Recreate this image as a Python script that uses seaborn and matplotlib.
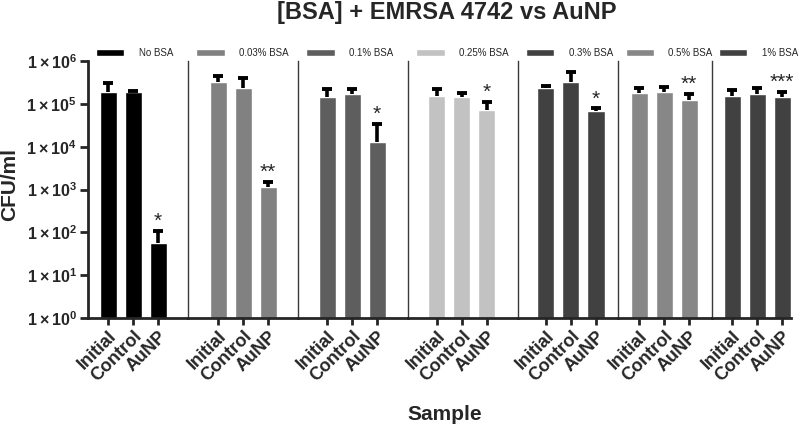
import matplotlib
matplotlib.use("Agg")
import matplotlib.pyplot as plt
from matplotlib.patches import Patch
from matplotlib.ticker import FixedLocator, FuncFormatter, NullLocator
import numpy as np
import pandas as pd
import seaborn as sns

# values (CFU/ml, mean and upper error)
bsa_groups = ["No BSA", "0.03% BSA", "0.1% BSA", "0.25% BSA", "0.3% BSA", "0.5% BSA", "1% BSA"]
sample_names = ["Initial", "Control", "AuNP"]

initial_cfu = [1.94e5, 3.15e5, 1.48e5, 1.56e5, 2.34e5, 1.83e5, 1.55e5]
control_cfu = [1.87e5, 2.33e5, 1.70e5, 1.48e5, 3.15e5, 1.87e5, 1.70e5]
aunp_cfu = [57, 1.13e3, 1.31e4, 7.1e4, 6.9e4, 1.24e5, 1.44e5]

initial_err = [1.06e5, 1.2e5, 7.2e4, 6.4e4, 2.6e4, 5.1e4, 5.8e4]
control_err = [1.3e4, 1.67e5, 5.0e4, 3.5e4, 2.25e5, 6.3e4, 6.4e4]
aunp_err = [53, 390, 2.09e4, 3.9e4, 9e3, 4.6e4, 5.0e4]

aunp_signif = ["*", "**", "*", "*", "*", "**", "***"]

bar_colors = ["#000000", "#818181", "#5e5e5e", "#c2c2c2", "#414141", "#878787", "#414141"]

# layout (pixels): padding left/right of the three bars in each panel, bar pitch
pad_left = [20, 30, 29, 29, 28, 21, 20]
pad_right = [30, 30, 31, 31, 22, 23, 9]
pitch = 25

rows = []
for g, grp in enumerate(bsa_groups):
    for s, vals, errs in zip(sample_names, [initial_cfu, control_cfu, aunp_cfu],
                             [initial_err, control_err, aunp_err]):
        rows.append({"Group": grp, "Sample": s, "CFU": vals[g], "err": errs[g]})
df = pd.DataFrame(rows)

sns.set_style("ticks")
plt.rcParams["font.family"] = ["Liberation Sans", "DejaVu Sans"]
plt.rcParams["mathtext.fontset"] = "custom"
plt.rcParams["mathtext.rm"] = "Liberation Sans"
plt.rcParams["mathtext.bf"] = "Liberation Sans:bold"

fig = plt.figure(figsize=(8.05, 4.32), dpi=100)
widths = [l + 2 * pitch + r for l, r in zip(pad_left, pad_right)]
gs = fig.add_gridspec(1, len(bsa_groups), width_ratios=widths, wspace=0,
                      left=88 / 805, right=791 / 805, top=1 - 61 / 432, bottom=1 - 318 / 432)

axes = []
for g, grp in enumerate(bsa_groups):
    ax = fig.add_subplot(gs[0, g], sharey=axes[0] if axes else None)
    axes.append(ax)
    sub = df[df["Group"] == grp]
    sns.barplot(data=sub, x="Sample", y="CFU", order=sample_names, color=bar_colors[g],
                saturation=1, width=0.68, errorbar=None, ax=ax)
    ax.set_yscale("log")
    ax.set_ylim(1, 1e6)
    ax.set_xlim(-pad_left[g] / pitch, 2 + pad_right[g] / pitch)

    for patch, err, s in zip(ax.patches, sub["err"], sub["Sample"]):
        x = patch.get_x() + patch.get_width() / 2
        h = patch.get_height()
        eb = ax.errorbar(x, h, yerr=[[0], [err]], fmt="none", ecolor="black",
                         elinewidth=2.6, capsize=3.6, capthick=2.8, zorder=1)
        eb[1][0].remove()  # upper whisker only
        if s == "AuNP":
            ax.annotate(aunp_signif[g], xy=(x, h + err), xytext=(0, 0), textcoords="offset points",
                        ha="center", va="bottom", fontsize=15)

    ax.spines["top"].set_visible(False)
    ax.spines["right"].set_visible(False)
    ax.spines["bottom"].set_linewidth(2)
    ax.tick_params(axis="x", length=5, width=2, pad=2)
    ax.set_xticks(range(len(sample_names)))
    ax.set_xticklabels(sample_names, rotation=45, ha="right", va="top", rotation_mode="anchor",
                       fontsize=13, fontweight="bold")
    ax.set_xlabel("")
    ax.set_ylabel("")
    if g == 0:
        ax.spines["left"].set_linewidth(2)
    else:
        ax.spines["left"].set_linewidth(1)
        ax.spines["left"].set_color("#3a3a3a")
        ax.tick_params(axis="y", which="both", left=False, labelleft=False)

    ax.legend([Patch(facecolor=bar_colors[g])], [grp], loc="lower left", bbox_to_anchor=(0.05, 1.0),
              frameon=False, fontsize=7, handlelength=2.9, handleheight=0.75,
              handletextpad=1.5, borderaxespad=0, borderpad=0.3)

ax0 = axes[0]
ax0.yaxis.set_major_locator(FixedLocator([10.0 ** k for k in range(7)]))
ax0.yaxis.set_minor_locator(NullLocator())
ax0.yaxis.set_major_formatter(FuncFormatter(
    lambda v, p: r"$\mathbf{1\times10^{%d}}$" % int(round(np.log10(v)))))
ax0.tick_params(axis="y", which="major", length=6, width=2, labelsize=11.5, pad=2)
ax0.tick_params(axis="y", which="minor", left=False)

fig.text(10 / 805, 1 - 185 / 432, "CFU/ml", rotation=90, ha="center", va="center",
         fontsize=15, fontweight="bold")
fig.text(445 / 805, 1 - 414 / 432, "Sample", ha="center", va="center", fontsize=15, fontweight="bold")
fig.text(447 / 805, 1 - 13 / 432, "[BSA] + EMRSA 4742 vs AuNP", ha="center", va="center",
         fontsize=17, fontweight="bold")

fig.savefig("out.png", dpi=100)
